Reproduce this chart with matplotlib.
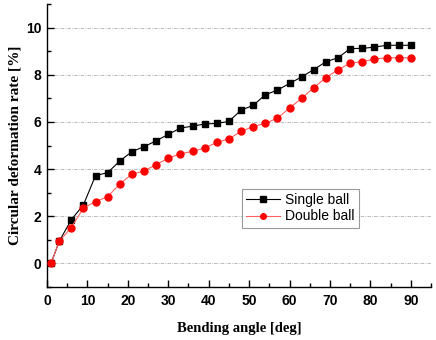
import matplotlib
matplotlib.use("Agg")
import matplotlib.pyplot as plt
from matplotlib.ticker import MultipleLocator

angles = [1, 3, 6, 9, 12, 15, 18, 21, 24, 27, 30, 33, 36, 39, 42, 45, 48, 51, 54,
          57, 60, 63, 66, 69, 72, 75, 78, 81, 84, 87, 90]
single_ball = [0.0, 0.93, 1.85, 2.48, 3.72, 3.85, 4.34, 4.74, 4.95, 5.2, 5.47, 5.74,
               5.82, 5.91, 5.94, 6.02, 6.5, 6.7, 7.15, 7.35, 7.63, 7.91, 8.22, 8.55,
               8.72, 9.11, 9.12, 9.17, 9.25, 9.25, 9.25]
double_ball = [0.0, 0.93, 1.52, 2.35, 2.62, 2.83, 3.37, 3.78, 3.92, 4.19, 4.46, 4.65,
               4.75, 4.89, 5.13, 5.28, 5.6, 5.8, 5.94, 6.16, 6.59, 7.0, 7.45, 7.88,
               8.21, 8.49, 8.56, 8.66, 8.72, 8.72, 8.72]
series_names = ["Single ball", "Double ball"]
xlabel = "Bending angle [deg]"
ylabel = "Circular deformation rate [%]"

fig = plt.figure(figsize=(4.36, 3.4), dpi=100)
ax = fig.add_axes([0.1078, 0.1559, 0.8807, 0.8323])

ax.plot(angles, single_ball, color="black", lw=0.8, marker="s", ms=4.6,
        label=series_names[0], zorder=3)
ax.plot(angles, double_ball, color="#ff6060", lw=0.8, marker="o", ms=5,
        mfc="red", mec="red", label=series_names[1], zorder=3)

ax.set_xlim(0, 95)
ax.set_ylim(-1, 11)
ax.xaxis.set_major_locator(MultipleLocator(10))
ax.xaxis.set_minor_locator(MultipleLocator(5))
ax.yaxis.set_major_locator(MultipleLocator(2))
ax.yaxis.set_minor_locator(MultipleLocator(1))
ax.set_yticks([0, 2, 4, 6, 8, 10])
ax.set_xticks([0, 10, 20, 30, 40, 50, 60, 70, 80, 90])

for s in ["top", "right"]:
    ax.spines[s].set_visible(False)
for s in ["left", "bottom"]:
    ax.spines[s].set_linewidth(1.0)

ax.tick_params(which="major", direction="in", length=5, width=1.0)
ax.tick_params(which="minor", direction="in", length=3, width=1.0)
for lab in ax.get_xticklabels() + ax.get_yticklabels():
    lab.set_fontfamily("Liberation Sans")
    lab.set_fontweight("bold")
    lab.set_fontsize(10)
ax.tick_params(axis="x", pad=5)
ax.tick_params(axis="y", pad=4)

ax.grid(axis="y", which="major", color="#b0b0b0", ls="-.", lw=0.6, dashes=(4, 1.5, 1, 1.5))

ax.set_xlabel(xlabel, fontfamily="Liberation Serif", fontweight="bold", fontsize=10.5, labelpad=10)
ax.set_ylabel(ylabel, fontfamily="Liberation Serif", fontweight="bold", fontsize=11, labelpad=3)

leg = ax.legend(loc="lower left", bbox_to_anchor=(0.508, 0.21),
                prop={"family": "Liberation Sans", "size": 10},
                frameon=True, fancybox=False, edgecolor="#808080",
                handlelength=2.4, handletextpad=0.4, borderpad=0.3,
                labelspacing=0.15, borderaxespad=0, markerscale=0.8)
leg.get_frame().set_linewidth(0.8)

fig.savefig("out.png", dpi=100)
